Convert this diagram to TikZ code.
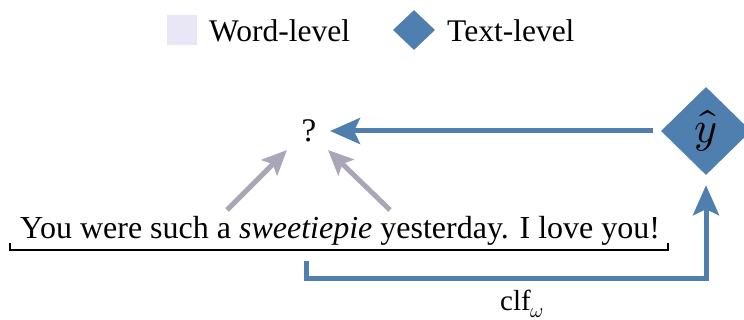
\documentclass[tikz,border=0pt]{standalone}
\usepackage{fontspec}
\usepackage{unicode-math}
\setmainfont{Liberation Serif}
\setmathfont{Latin Modern Math}
\usetikzlibrary{arrows.meta,shapes.geometric,calc}
\definecolor{clfblue}{RGB}{79,127,175}
\definecolor{wordgray}{RGB}{170,166,184}
\definecolor{wordfill}{RGB}{233,231,246}
\begin{document}
\begin{tikzpicture}[x=1pt,y=-1pt,
  legendtext/.style={anchor=base west, inner sep=0pt, font=\fontsize{31.5}{36}\selectfont},
  textmark/.style={diamond, fill=clfblue, inner sep=0pt},
  bluearrow/.style={draw=clfblue, line width=5pt, line join=miter,
    -{Stealth[length=30pt,width=26pt,inset=6pt]}},
  grayarrow/.style={draw=wordgray, line width=5pt,
    -{Stealth[length=25pt,width=22pt,inset=5pt]}},
  bracket/.style={draw=black, line width=1.6pt}
]
\useasboundingbox (0,0) rectangle (744,320);

% legend
\node[fill=wordfill, minimum size=30pt, inner sep=0pt] (wordkey) at (182,30) {};
\node[legendtext] (wordlbl) at (209,42) {Word-level};
\node[textmark, minimum width=42pt, minimum height=40pt] (textkey) at (414,30) {};
\node[legendtext] (textlbl) at (447,42) {Text-level};

% unknown word-level target and text-level prediction
\node[inner sep=0pt, font=\fontsize{33}{38}\selectfont] (q) at (309,131) {?};
\node[textmark, minimum width=90pt, minimum height=88pt,
      font=\fontsize{44}{50}\selectfont] (yhat) at (706,131) {$\hat{y}$};

% input sentence with its underbrace
\node[anchor=base west, inner sep=0pt, font=\fontsize{32}{38}\selectfont] (sent) at (20,239)
  {You were such a \textit{sweetiepie} yesterday. I love you!};
\draw[bracket] ($(sent.base west)+(-10,4)$) -- ++(0,7) -| ($(sent.base east)+(8,4)$);

% classifier path from the sentence to the prediction
\coordinate (src) at (306,261);
\draw[bluearrow, shorten >=10pt] (src) -- ++(0,18) -| (yhat.south);
\node[anchor=base west, inner sep=0pt, font=\fontsize{29}{34}\selectfont] (clf) at (500,310) {clf$_\omega$};

% prediction passed back to the word level
\draw[bluearrow, shorten <=8pt] (yhat.west) -- ($(q.center)+(21,0)$);

% words pointing at the unknown
\coordinate (w1) at (227,210);
\coordinate (w2) at (390,210);
\draw[grayarrow] (w1) -- ($(q.center)+(-22,19)$);
\draw[grayarrow] (w2) -- ($(q.center)+(19,19)$);
\end{tikzpicture}
\end{document}
